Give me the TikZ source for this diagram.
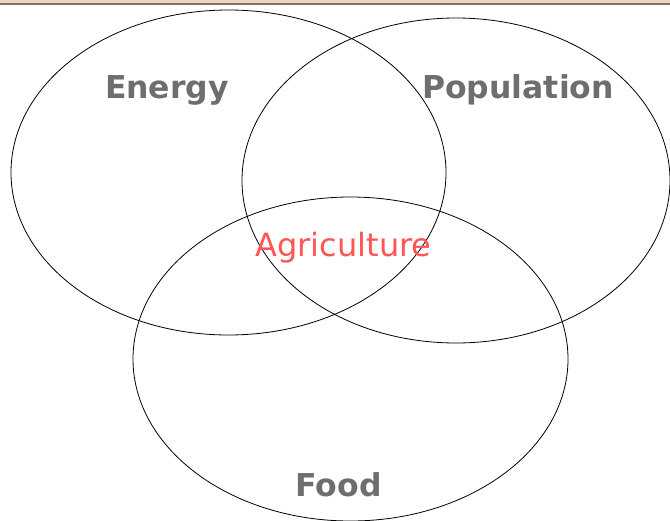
\documentclass[tikz,border=0pt]{standalone}
\usepackage{fontspec}
\setmainfont{DejaVu Sans}
\definecolor{labelgray}{RGB}{110,110,110}
\definecolor{agrired}{RGB}{255,85,85}
\definecolor{bandtan}{RGB}{232,214,198}
\definecolor{banddark}{RGB}{140,110,92}
\tikzset{
  topic/.style={font=\fontsize{31.5}{36}\selectfont\bfseries, text=labelgray, anchor=base, inner sep=0pt},
  core/.style={font=\fontsize{32}{36}\selectfont, text=agrired, anchor=base, inner sep=0pt}
}
\begin{document}
\begin{tikzpicture}[x=1pt,y=-1pt]
      \useasboundingbox (0,0) rectangle (670,520);
      \fill[white] (0,0) rectangle (670,520);
      % top band
      \fill[bandtan] (0,0) rectangle (670,3.5);
      \draw[banddark, line width=1.4pt] (0,4) -- (670,4);
      % circles
      \begin{scope}[line width=0.8pt]
        \draw (228.5,172.5) ellipse [x radius=217.5, y radius=162.5];
        \draw (456,180.5) ellipse [x radius=214, y radius=162.5];
        \draw (350.5,359) ellipse [x radius=217.5, y radius=162];
      \end{scope}
      % labels
      \node[topic] (energy) at (167,98) {Energy};
      \node[topic] (population) at (518,98) {Population};
      \node[topic] (food) at (338.5,496) {Food};
      \node[core] (agriculture) at (343.5,256) {Agriculture};
    \end{tikzpicture}
\end{document}
